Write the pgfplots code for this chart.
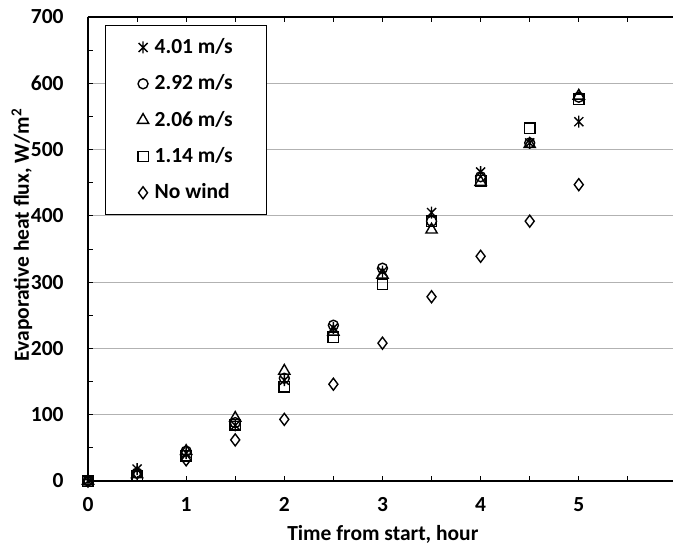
\documentclass[border=0pt]{standalone}
\usepackage{pgfplots}
\pgfplotsset{compat=1.18}
\usepackage{fontspec}
\setmainfont{Carlito}
\pgfdeclareplotmark{xstar}{%
  \pgfpathmoveto{\pgfqpoint{0pt}{\pgfplotmarksize}}%
  \pgfpathlineto{\pgfqpoint{0pt}{-\pgfplotmarksize}}%
  \pgfpathmoveto{\pgfqpoint{-0.75\pgfplotmarksize}{0.75\pgfplotmarksize}}%
  \pgfpathlineto{\pgfqpoint{0.75\pgfplotmarksize}{-0.75\pgfplotmarksize}}%
  \pgfpathmoveto{\pgfqpoint{-0.75\pgfplotmarksize}{-0.75\pgfplotmarksize}}%
  \pgfpathlineto{\pgfqpoint{0.75\pgfplotmarksize}{0.75\pgfplotmarksize}}%
  \pgfusepathqstroke}
\newcommand{\fnt}{\fontsize{21.5}{25}\selectfont\bfseries}
\begin{document}
\fnt
\begin{tikzpicture}
\begin{axis}[
  scale only axis, width=585pt, height=464pt,
  xmin=0, xmax=5.96, ymin=0, ymax=700,
  axis x line*=box, axis y line*=left,
  xtick={0,1,2,3,4,5}, minor xtick={0.5,1.5,2.5,3.5,4.5,5.5},
  ytick={0,100,...,700}, minor ytick={50,150,...,650},
  tick align=inside, major tick length=5pt, minor tick length=5pt,
  tick style={black, line width=1pt},
  axis line style={black, line width=1.4pt},
  ymajorgrids, grid style={gray!60, line width=0.9pt},
  /pgf/number format/assume math mode=true,
  tick label style={font=\fnt},
  xticklabel style={yshift=-9pt},
  yticklabel style={xshift=-17pt},
  xlabel={Time from start, hour},
  ylabel={Evaporative heat flux, W/m\textsuperscript{2}},
  every axis x label/.style={at={(axis description cs:0.504,-0.116)}, anchor=center, font=\fnt},
  every axis y label/.style={at={(axis description cs:-0.113,0.53)}, anchor=center, rotate=90, font=\fnt},
  clip=false,
  legend style={at={(0.029,0.983)}, anchor=north west, draw=black, line width=0.9pt,
    font=\fnt, row sep=14pt,
    inner xsep=32pt, inner ysep=11pt},
  legend cell align=left,
  legend image post style={},
  /tikz/every odd column/.append style={column sep=4pt},
  every axis plot/.append style={only marks, black, mark options={line width=1.4pt, solid, fill=none}},
]
\addplot[mark=xstar, mark size=6pt] coordinates {(0,0)(0.5,18)(1,42)(1.5,84)(2,152)(2.5,231)(3,316)(3.5,405)(4,466)(4.5,510)(5,542)};
\addlegendentry{4.01 m/s}
\addplot[mark=o, mark size=5pt] coordinates {(0,0)(0.5,12)(1,45)(1.5,88)(2,155)(2.5,235)(3,321)(3.5,392)(4,459)(4.5,510)(5,579)};
\addlegendentry{2.92 m/s}
\addplot[mark=triangle, mark size=6.5pt] coordinates {(0,0)(0.5,10)(1,45)(1.5,95)(2,166)(2.5,225)(3,311)(3.5,379)(4,451)(4.5,508)(5,581)};
\addlegendentry{2.06 m/s}
\addplot[mark=square, mark size=5.2pt] coordinates {(0,0)(0.5,7)(1,38)(1.5,85)(2,142)(2.5,217)(3,297)(3.5,392)(4,453)(4.5,532)(5,576)};
\addlegendentry{1.14 m/s}
\addplot[mark=diamond, mark size=6pt] coordinates {(0,0)(0.5,12)(1,32)(1.5,62)(2,93)(2.5,146)(3,208)(3.5,278)(4,339)(4.5,392)(5,447)};
\addlegendentry{No wind}
\end{axis}
\pgfresetboundingbox
\path ([shift={(-88pt,-65pt)}]current axis.south west) rectangle ([shift={(0pt,17pt)}]current axis.north east);
\end{tikzpicture}
\end{document}
